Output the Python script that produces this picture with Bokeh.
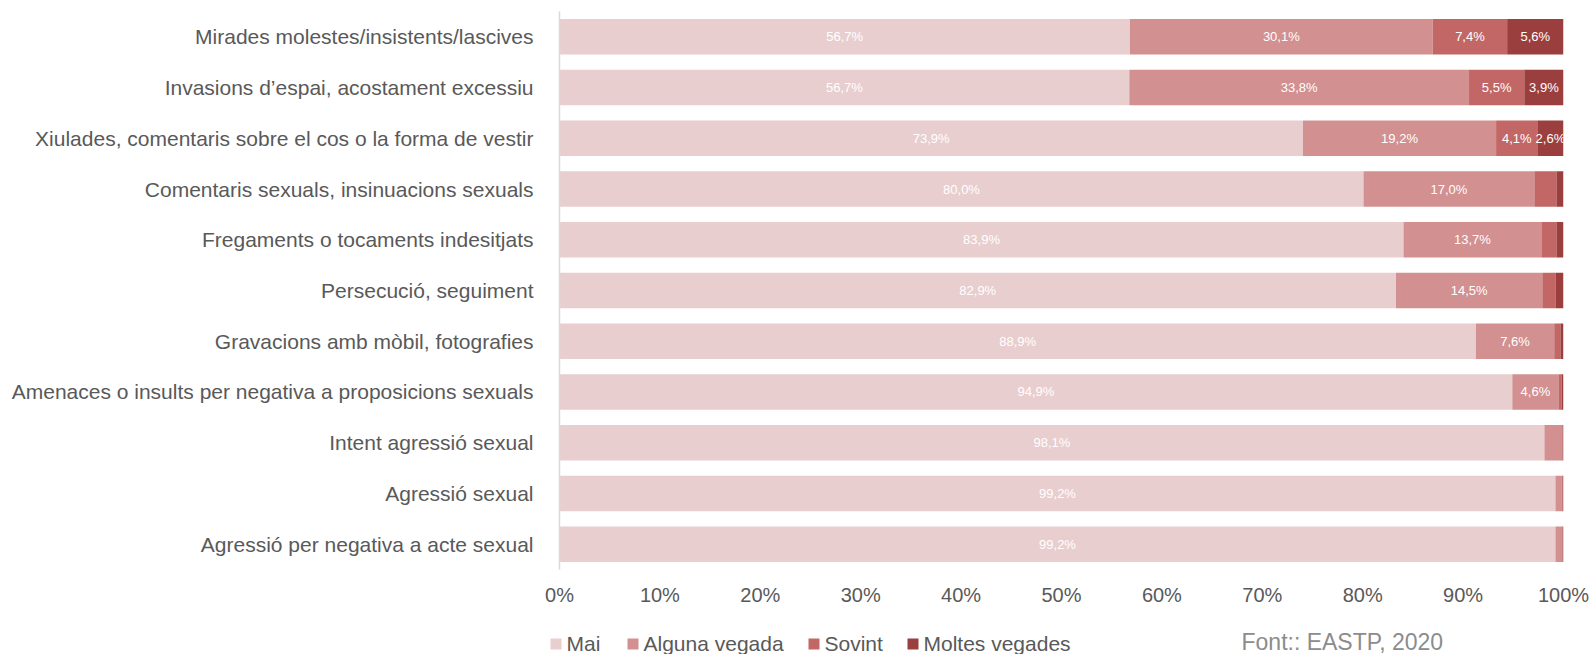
from bokeh.plotting import figure
from bokeh.models import ColumnDataSource, FactorRange, Range1d, FixedTicker
from bokeh.layouts import column
from bokeh.core.properties import value
from bokeh.embed import file_html
from bokeh.resources import INLINE

categories = [
    "Mirades molestes/insistents/lascives",
    "Invasions d\u2019espai, acostament excessiu",
    "Xiulades, comentaris sobre el cos o la forma de vestir",
    "Comentaris sexuals, insinuacions sexuals",
    "Fregaments o tocaments indesitjats",
    "Persecució, seguiment",
    "Gravacions amb mòbil, fotografies",
    "Amenaces o insults per negativa a proposicions sexuals",
    "Intent agressió sexual",
    "Agressió sexual",
    "Agressió per negativa a acte sexual",
]
mai = [56.7, 56.7, 73.9, 80.0, 83.9, 82.9, 88.9, 94.9, 98.1, 99.2, 99.2]
alguna = [30.1, 33.8, 19.2, 17.0, 13.7, 14.5, 7.6, 4.6, 1.8, 0.6, 0.7]
sovint = [7.4, 5.5, 4.1, 2.2, 1.5, 1.3, 0.6, 0.3, 0.0, 0.1, 0.0]
moltes = [5.6, 3.9, 2.6, 0.7, 0.7, 0.8, 0.3, 0.2, 0.1, 0.1, 0.1]
series_names = ["Mai", "Alguna vegada", "Sovint", "Moltes vegades"]
colors = ["#E9CECF", "#D29090", "#C26765", "#9B3F3E"]
x_ticks = [0, 10, 20, 30, 40, 50, 60, 70, 80, 90, 100]
source_note = "Font:: EASTP, 2020"

FONT = "Liberation Sans"
series = [mai, alguna, sovint, moltes]
keys = ["mai", "alguna", "sovint", "moltes"]

# normalise each row to 100 % (100% stacked bar)
totals = [sum(s[i] for s in series) for i in range(len(categories))]
data = {"cat": categories}
for k, s in zip(keys, series):
    data[k] = [s[i] / totals[i] * 100 for i in range(len(categories))]
src = ColumnDataSource(data)

W = 1591
p = figure(width=W, height=620,
           y_range=FactorRange(*reversed(categories)),
           x_range=Range1d(0, 100),
           output_backend="svg", toolbar_location=None,
           min_border_left=559, min_border_right=W - 1563,
           min_border_top=11, min_border_bottom=51)
p.frame_align = False
p.outline_line_color = None
p.xgrid.grid_line_color = None
p.ygrid.grid_line_color = None

renderers = p.hbar_stack(keys, y="cat", height=0.7, color=colors,
                         line_color=None, source=src)

# data labels (only on segments wide enough)
lx, ly, lt = [], [], []
for i, c in enumerate(categories):
    cum = 0.0
    for k, s in zip(keys, series):
        w = data[k][i]
        if s[i] >= 2.5:
            lx.append(cum + w / 2)
            ly.append(c)
            lt.append(f"{s[i]:.1f}".replace(".", ",") + "%")
        cum += w
lsrc = ColumnDataSource(dict(x=lx, y=ly, t=lt))
p.text(x="x", y="y", text="t", source=lsrc, text_color="white",
       text_font=value(FONT), text_font_size="13px",
       text_align="center", text_baseline="middle")

# axes
p.xaxis.ticker = FixedTicker(ticks=x_ticks)
p.xaxis.major_label_overrides = {t: f"{t}%" for t in x_ticks}
p.xaxis.axis_line_color = None
p.xaxis.major_tick_line_color = None
p.xaxis.minor_tick_line_color = None
p.xaxis.major_label_text_font = FONT
p.xaxis.major_label_text_font_size = "20px"
p.xaxis.major_label_text_color = "#595959"
p.xaxis.major_label_standoff = 8

p.yaxis.axis_line_color = "#D9D9D9"
p.yaxis.axis_line_width = 1.5
p.yaxis.major_tick_line_color = None
p.yaxis.minor_tick_line_color = None
p.yaxis.major_label_text_font = FONT
p.yaxis.major_label_text_font_size = "21px"
p.yaxis.major_label_text_color = "#595959"
p.yaxis.major_label_standoff = 20

# legend + source strip below the chart (data units = pixels)
LH = 34
leg = figure(width=W, height=LH, x_range=Range1d(0, W), y_range=Range1d(LH, 0),
             output_backend="svg", toolbar_location=None,
             x_axis_type=None, y_axis_type=None,
             min_border=0, min_border_left=0, min_border_right=0,
             min_border_top=0, min_border_bottom=0)
leg.frame_align = False
leg.outline_line_color = None
leg.xgrid.grid_line_color = None
leg.ygrid.grid_line_color = None

legend_square_x = [550, 627, 808, 907]   # layout: left edge of each key square
sq = ColumnDataSource(dict(x=[x + 5.5 for x in legend_square_x],
                           tx=[x + 16 for x in legend_square_x],
                           y=[23.5] * 4, ty=[22.5] * 4,
                           c=colors, t=series_names))
leg.rect(x="x", y="y", width=11, height=11, fill_color="c",
         line_color=None, source=sq)
leg.text(x="tx", y="ty", text="t", source=sq, text_color="#595959",
         text_font=value(FONT), text_font_size="21px",
         text_align="left", text_baseline="middle")
leg.text(x=[1241], y=[21], text=[source_note], text_color="#8C8C8C",
         text_font=value(FONT), text_font_size="23px",
         text_align="left", text_baseline="middle")

layout = column(p, leg, spacing=0)
open("out.html", "w").write(file_html(layout, INLINE))
